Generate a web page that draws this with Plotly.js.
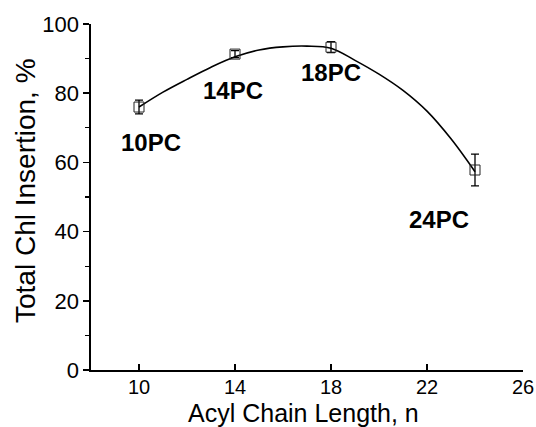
<!DOCTYPE html>
<html>
<head>
<meta charset="utf-8">
<script src="https://cdn.plot.ly/plotly-3.0.1.min.js"></script>
<style>html,body{margin:0;padding:0;background:#fff;}#chart{width:536px;height:427px;}</style>
</head>
<body>
<div id="chart"></div>
<script>
// Measured points
const chainLength = [10, 14, 18, 24];
const insertion = [76, 91.3, 93.3, 57.8];
const insertionErr = [2, 1, 1.6, 4.6];
const pointLabels = ['10PC', '14PC', '18PC', '24PC'];
const labelX = [10.5, 13.9, 18.0, 22.5];
const labelY = [65.8, 80.9, 86, 43.5];

// Fitted curve
const fitX = [10, 11, 12, 13, 14, 15, 16, 17, 18, 19, 20, 21, 22, 23, 24];
const fitY = [76, 80.3, 84, 87.5, 90.5, 92.5, 93.4, 93.6, 93, 89.5, 85.5, 80.8, 74.8, 66.8, 57.3];

// Axis ticks
const xTicks = [10, 14, 18, 22, 26];
const yTicks = [0, 20, 40, 60, 80, 100];
const xTitle = 'Acyl Chain Length, n';
const yTitle = 'Total Chl Insertion, %';

const FONT = 'Liberation Sans, Arial, sans-serif';

const traces = [
  {
    x: fitX, y: fitY, type: 'scatter', mode: 'lines',
    line: {color: '#000', width: 1.6, shape: 'spline'},
    hoverinfo: 'skip', showlegend: false
  },
  {
    x: chainLength, y: insertion, type: 'scatter', mode: 'markers',
    marker: {symbol: 'square-open', size: 10, color: '#222', line: {width: 1, color: '#222'}},
    error_y: {type: 'data', array: insertionErr, visible: true, color: '#000', thickness: 1.3, width: 4},
    showlegend: false
  }
];

const annotations = pointLabels.map((t, i) => ({
  x: labelX[i], y: labelY[i], xref: 'x', yref: 'y', text: '<b>' + t + '</b>',
  showarrow: false, font: {family: FONT, size: 24, color: '#000'}
}));
annotations.push({
  xref: 'paper', yref: 'paper', x: 0.5, y: 0, xanchor: 'center', yanchor: 'middle',
  yshift: -43, xshift: -4, text: xTitle, showarrow: false,
  font: {family: FONT, size: 25, color: '#000'}
});
annotations.push({
  xref: 'paper', yref: 'paper', x: 0, y: 0.5, xanchor: 'center', yanchor: 'middle',
  xshift: -66, yshift: 6, textangle: -90, text: yTitle, showarrow: false,
  font: {family: FONT, size: 28, color: '#000'}
});

const layout = {
  width: 536, height: 427,
  margin: {l: 91, r: 13, t: 24, b: 57, pad: 0},
  paper_bgcolor: '#fff', plot_bgcolor: '#fff',
  font: {family: FONT, color: '#000'},
  showlegend: false,
  xaxis: {
    range: [8, 26], tickvals: xTicks, ticktext: xTicks.map(String),
    ticks: 'inside', ticklen: 6, tickwidth: 1.5, tickcolor: '#000',
    ticklabelstandoff: -2,
    showline: true, linecolor: '#000', linewidth: 1.6,
    showgrid: false, zeroline: false,
    tickfont: {family: FONT, size: 20, color: '#000'}
  },
  yaxis: {
    range: [0, 100], tickvals: yTicks, ticktext: yTicks.map(String),
    ticks: 'outside', ticklen: 6, tickwidth: 1.5, tickcolor: '#000',
    minor: {dtick: 10, tick0: 0, ticks: 'outside', ticklen: 4, tickwidth: 1.2, tickcolor: '#000'},
    showline: true, linecolor: '#000', linewidth: 1.6,
    showgrid: false, zeroline: false,
    tickfont: {family: FONT, size: 22, color: '#000'}
  },
  annotations: annotations
};

Plotly.newPlot('chart', traces, layout, {displayModeBar: false, staticPlot: true});
</script>
</body>
</html>
